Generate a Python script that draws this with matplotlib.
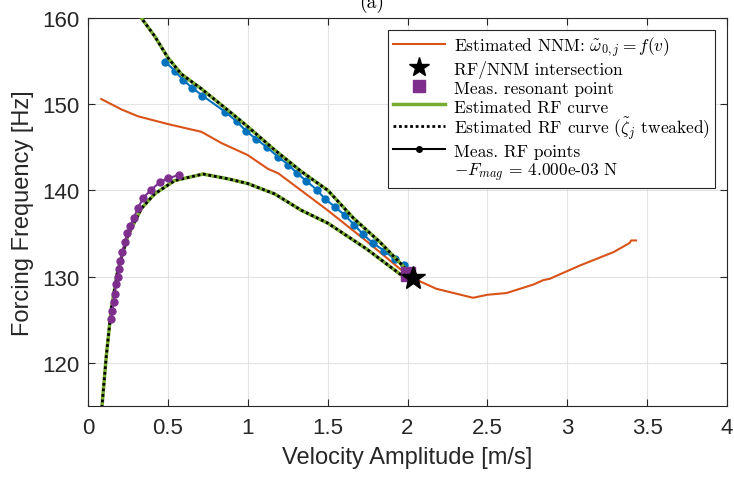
import matplotlib
matplotlib.use('Agg')
import matplotlib.pyplot as plt
from matplotlib.lines import Line2D

plt.rcParams['font.family'] = ['Liberation Sans', 'DejaVu Sans']
plt.rcParams['mathtext.fontset'] = 'cm'

# estimated NNM backbone
nnm_v = [0.083, 0.209, 0.313, 0.50, 0.71, 0.835, 1.0, 1.127, 1.19, 1.356, 1.5, 1.745,
         1.953, 2.037, 2.18, 2.41, 2.50, 2.62, 2.79, 2.85, 2.89, 3.08, 3.29, 3.39, 3.40, 3.43]
nnm_f = [150.6, 149.4, 148.6, 147.7, 146.8, 145.5, 144.1, 142.5, 142.0, 139.7, 137.7, 134.1,
         130.9, 129.8, 128.6, 127.55, 127.9, 128.1, 129.1, 129.6, 129.75, 131.3, 132.85, 133.9, 134.2, 134.2]

# estimated RF curve, upper branch
rf_up_v = [0.30, 0.334, 0.417, 0.50, 0.584, 0.709, 0.876, 1.0, 1.168, 1.335, 1.502,
           1.661, 1.828, 1.974, 2.0]
rf_up_f = [161.5, 160.0, 157.9, 155.4, 153.5, 151.8, 149.3, 147.4, 144.7, 142.2, 140.0,
           136.8, 134.0, 131.2, 130.5]

# estimated RF curve, lower branch
rf_lo_v = [0.083, 0.088, 0.115, 0.146, 0.188, 0.25, 0.334, 0.417, 0.543, 0.72, 0.876,
           1.0, 1.168, 1.335, 1.502, 1.745, 1.953, 2.0]
rf_lo_f = [113.5, 115.1, 120.9, 126.3, 130.9, 134.8, 137.9, 139.6, 141.15, 141.9, 141.35,
           140.8, 139.6, 137.7, 136.2, 133.2, 130.3, 129.8]

# measured RF points (upper branch, blue)
meas_up_v = [0.484, 0.543, 0.595, 0.653, 0.716, 0.860, 0.931, 0.989, 1.050, 1.121, 1.189,
             1.254, 1.308, 1.367, 1.431, 1.484, 1.546, 1.609, 1.667, 1.723, 1.782, 1.855,
             1.922, 1.978]
meas_up_f = [154.9, 153.9, 152.8, 151.9, 151.0, 149.1, 148.0, 146.9, 146.0, 145.0, 143.9,
             143.0, 142.0, 141.1, 140.1, 139.0, 138.1, 137.1, 136.0, 134.9, 133.9, 133.0,
             132.0, 131.3]

# measured RF points (lower branch, purple)
meas_lo_v = [0.146, 0.152, 0.161, 0.167, 0.175, 0.186, 0.194, 0.202, 0.215, 0.230, 0.246,
             0.263, 0.286, 0.313, 0.344, 0.396, 0.453, 0.501, 0.568]
meas_lo_f = [125.1, 126.0, 127.05, 128.0, 129.1, 130.0, 130.9, 131.8, 132.85, 134.0, 135.05,
             135.9, 136.8, 137.95, 139.1, 140.1, 141.0, 141.4, 141.8]

star_v, star_f = [2.037], [129.8]
res_v, res_f = [2.0], [130.3]

orange = '#D95319'
blue = '#0072BD'
purple = '#7E2F8E'
green = '#77AC30'

fig = plt.figure(figsize=(7.34, 4.81), dpi=100)
ax = fig.add_axes([88/734, 1-407/481, 639/734, 388/481])

ax.plot(nnm_v, nnm_f, color=orange, lw=1.5, zorder=3)
ax.plot(meas_up_v, meas_up_f, '-o', color=blue, lw=1.5, ms=5, zorder=3)
ax.plot(meas_lo_v, meas_lo_f, '-o', color=purple, lw=1.5, ms=5, zorder=6)
for v, f in [(rf_up_v, rf_up_f), (rf_lo_v, rf_lo_f)]:
    ax.plot(v, f, color=green, lw=2.5, zorder=4)
    ax.plot(v, f, color='black', lw=2, linestyle=(0, (1, 1)), zorder=5)
ax.plot(res_v, res_f, 's', color=purple, ms=10, zorder=7)
ax.plot(star_v, star_f, '*', color='black', ms=18, zorder=8)

ax.set_xlim(0, 4)
ax.set_ylim(115, 160)
ax.set_xticks([0, 0.5, 1, 1.5, 2, 2.5, 3, 3.5, 4])
ax.set_xticklabels(['0', '0.5', '1', '1.5', '2', '2.5', '3', '3.5', '4'])
ax.set_yticks([120, 130, 140, 150, 160])
ax.tick_params(direction='in', top=True, right=True, labelsize=16, color='#262626',
               labelcolor='#262626', length=5)
ax.tick_params(axis='y', pad=6)
ax.tick_params(axis='x', pad=8)
ax.grid(True, color='#e3e3e3', lw=0.8)
ax.set_axisbelow(True)
for s in ax.spines.values():
    s.set_color('#262626')
    s.set_linewidth(0.8)
ax.set_xlabel('Velocity Amplitude [m/s]', fontsize=17, color='#262626', labelpad=6)
ax.set_ylabel('Forcing Frequency [Hz]', fontsize=17, color='#262626', labelpad=6)

fig.text(372/734, 1-8/481, '(a)', ha='center', va='baseline', fontsize=14, family='cmr10')

handles = [
    Line2D([], [], color=orange, lw=1.5),
    Line2D([], [], color='black', marker='*', ms=15, ls='none'),
    Line2D([], [], color=purple, marker='s', ms=8, ls='none'),
    Line2D([], [], color=green, lw=2.5),
    Line2D([], [], color='black', lw=2, ls=(0, (1, 1))),
    Line2D([], [], color='black', lw=1.5, marker='o', ms=4),
    Line2D([], [], ls='none'),
]
labels = [
    r'Estimated NNM: $\tilde{\omega}_{0,j} = f(v)$',
    'RF/NNM intersection',
    'Meas. resonant point',
    'Estimated RF curve',
    r'Estimated RF curve ($\tilde{\zeta}_j$ tweaked)',
    'Meas. RF points',
    r'$-F_{mag}$ = 4.000e-03 N',
]
leg = ax.legend(handles, labels, loc='upper right', bbox_to_anchor=(715/734, 1-31/481),
                bbox_transform=fig.transFigure, borderaxespad=0, fancybox=False,
                framealpha=1, edgecolor='#262626', prop={'family': 'cmr10', 'size': 12.5},
                handlelength=3, handleheight=1.25, handletextpad=0.5, labelspacing=0,
                borderpad=0.3)
leg.get_frame().set_linewidth(0.8)

fig.savefig('out.png', dpi=100)
